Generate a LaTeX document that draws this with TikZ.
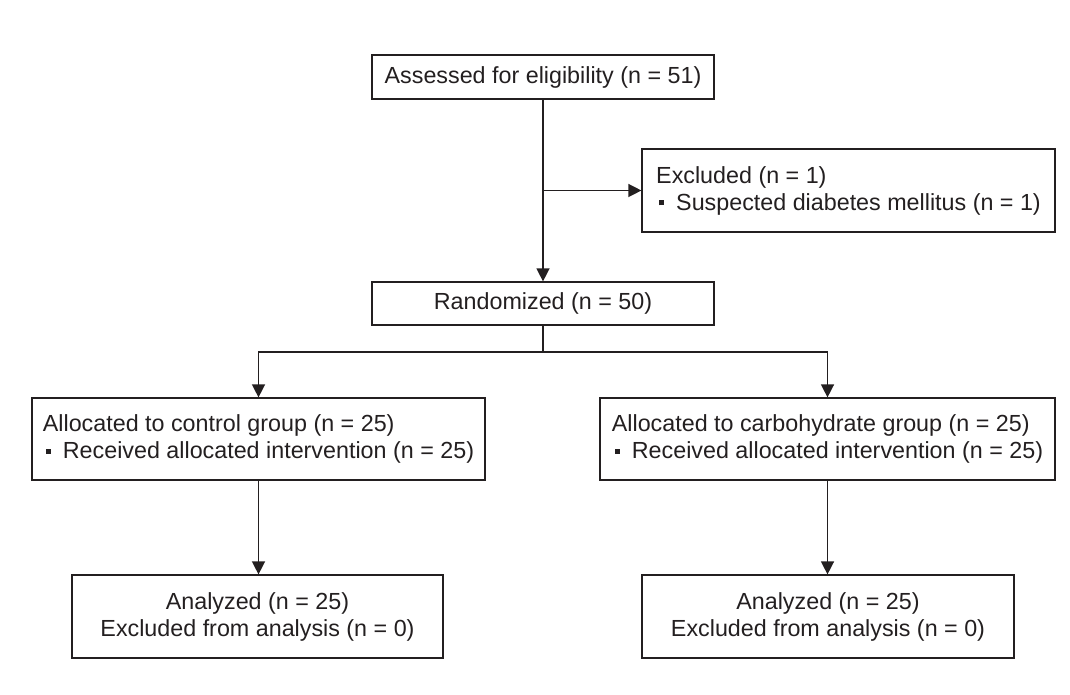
\documentclass[tikz,border=0pt]{standalone}
\usepackage{fontspec}
\setmainfont{Liberation Sans}
\usepackage{tikz}
\usetikzlibrary{positioning,arrows.meta}

\definecolor{ink}{RGB}{35,31,32}
\newcommand{\sqbox}{\hspace{3pt}\rule[0.2em]{5pt}{5pt}\hspace{12pt}}

\tikzset{
  box/.style={draw=ink, line width=1.2pt, rectangle, inner sep=0pt,
    text=ink, font=\fontsize{23.3}{27}\selectfont},
  listbox/.style={box, align=left},
  endbox/.style={box, align=center},
  flow/.style={draw=ink, line width=1.4pt, -{Triangle[length=13pt,width=13pt]}}
}

\begin{document}
\begin{tikzpicture}[x=1pt,y=1pt]
    \useasboundingbox (0,0) rectangle (1070,694);

    \node (assessed) [box, minimum width=342pt, minimum height=44pt] at (543,617) {Assessed for eligibility (n = 51)};
    \node (excluded) [listbox, minimum width=413pt, minimum height=83pt] at (848.5,503.5) {Excluded (n = 1)\\\sqbox Suspected diabetes mellitus (n = 1)};
    \node (randomized) [box, minimum width=342pt, minimum height=43pt] at (543,390.5) {Randomized (n = 50)};
    \node (control) [listbox, minimum width=453pt, minimum height=82pt] at (258.5,255) {Allocated to control group (n = 25)\\\sqbox Received allocated intervention (n = 25)};
    \node (carbo) [listbox, minimum width=455pt, minimum height=82pt] at (827.5,255) {Allocated to carbohydrate group (n = 25)\\\sqbox Received allocated intervention (n = 25)};
    \node (analyzedA) [endbox, minimum width=371pt, minimum height=83pt] at (257.5,77.5) {Analyzed (n = 25)\\Excluded from analysis (n = 0)};
    \node (analyzedB) [endbox, minimum width=372pt, minimum height=83pt] at (828,77.5) {Analyzed (n = 25)\\Excluded from analysis (n = 0)};

    \coordinate (branch) at (assessed.south |- excluded.west);
    \coordinate (split) at (543,342);

    \draw[flow] (assessed) -- (randomized);
    \draw[flow] (branch) -- (excluded.west);
    \draw[draw=ink, line width=1.4pt] (randomized) -- (split);
    \draw[flow] (split) -| (control);
    \draw[flow] (split) -| (carbo);
    \draw[flow] (control) -- (control |- analyzedA.north);
    \draw[flow] (carbo) -- (carbo |- analyzedB.north);
\end{tikzpicture}
\end{document}
